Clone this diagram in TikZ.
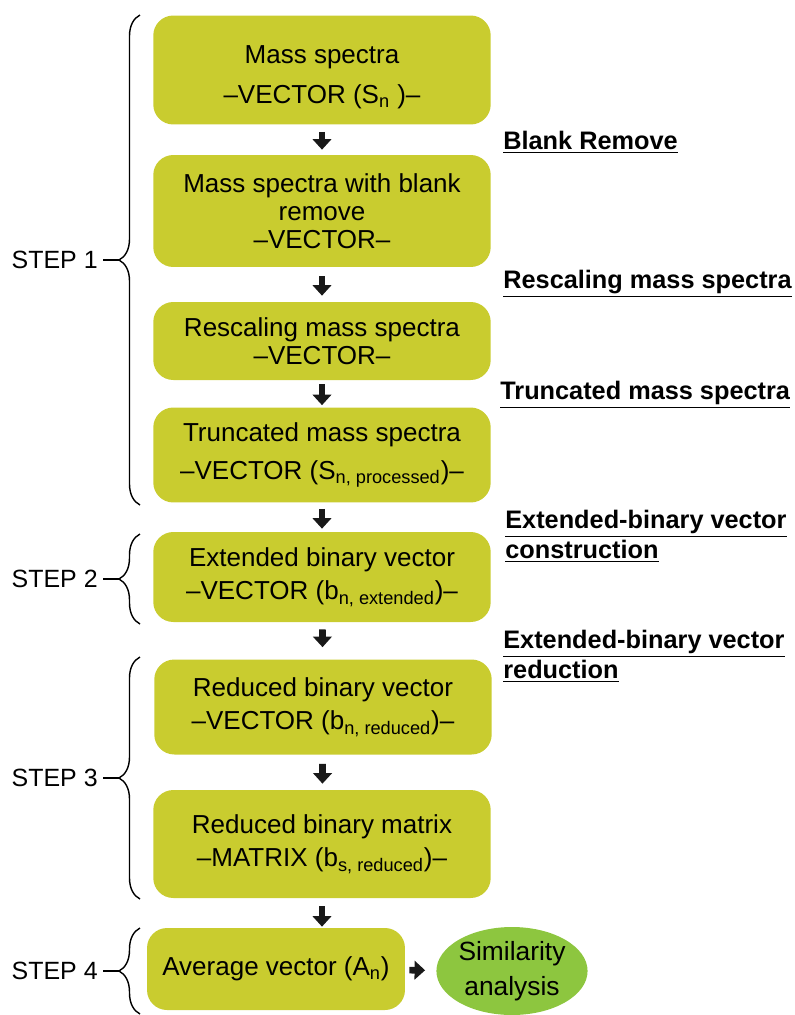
\documentclass[tikz,border=0pt]{standalone}
\usepackage{fontspec}
\setmainfont{Liberation Sans}
\usetikzlibrary{arrows.meta,positioning,shapes.geometric,decorations.pathreplacing}

\definecolor{boxolive}{RGB}{201,204,47}
\definecolor{ovalgreen}{RGB}{141,198,63}

\begin{document}
\begin{tikzpicture}[%
x=0.02cm, y=-0.02cm,
stage/.style={rectangle, rounded corners=0.4cm, fill=boxolive,
  minimum width=6.75cm, align=center, inner sep=0pt,
  font=\fontsize{14.8}{20}\selectfont},
flow/.style={-{Triangle[width=10.5pt,length=6pt]}, line width=3.8pt, draw=black!90},
oplabel/.style={anchor=west, align=left, inner sep=0pt,
  font=\bfseries\fontsize{14.4}{17}\selectfont},
steplabel/.style={anchor=east, inner sep=0pt, font=\fontsize{14.2}{16}\selectfont},
stepbrace/.style={decorate, decoration={brace, amplitude=0.42cm}, line width=0.8pt}
]
\useasboundingbox (0,0) rectangle (795,1015);

% flow boxes
\node[stage, minimum height=2.18cm] (raw) at (322,70)
  {\vphantom{X}\\[-12pt]Mass spectra\\[3pt]–VECTOR (S\textsubscript{n} )–};
\node[stage, minimum height=2.24cm] (blank) at (322,211)
  {Mass spectra with blank\\[-4pt]remove\\[-4pt]–VECTOR–};
\node[stage, minimum height=1.56cm] (rescale) at (322,341)
  {Rescaling mass spectra\\[-4pt]–VECTOR–};
\node[stage, minimum height=1.9cm] (trunc) at (322,455)
  {Truncated mass spectra\\[1.5pt]–VECTOR (S\textsubscript{n, processed})–};
\node[stage, minimum height=1.8cm] (extbin) at (322,577)
  {Extended binary vector\\[-1pt]–VECTOR (b\textsubscript{n, extended})–};
\node[stage, minimum height=1.9cm] (redvec) at (323,707)
  {Reduced binary vector\\[-1pt]–VECTOR (b\textsubscript{n, reduced})–};
\node[stage, minimum height=2.16cm] (redmat) at (322,844)
  {Reduced binary matrix\\[-1pt]–MATRIX (b\textsubscript{s, reduced})–};
\node[stage, minimum width=5.16cm, minimum height=1.64cm] (avg) at (276,969)
  {Average vector (A\textsubscript{n})};
\node[ellipse, fill=ovalgreen, minimum width=3cm, minimum height=1.76cm,
  align=center, inner sep=0pt, font=\fontsize{15}{20}\selectfont] (sim) at (512,971)
  {Similarity\\analysis};

% arrows
\draw[flow, shorten <=0.14cm, shorten >=0.1cm] (raw) -- (blank);
\draw[flow, shorten <=0.18cm, shorten >=0.12cm] (blank) -- (rescale);
\draw[flow, shorten <=0.08cm, shorten >=0.04cm] (rescale) -- (trunc);
\draw[flow, shorten <=0.12cm, shorten >=0.06cm] (trunc) -- (extbin);
\draw[flow, shorten <=0.14cm, shorten >=0.24cm] (extbin) -- (redvec);
\draw[flow, shorten <=0.18cm, shorten >=0.12cm] (redvec) -- (redmat);
\draw[flow, shorten <=0.16cm, shorten >=0.02cm] (redmat) -- (redmat |- avg.north);
\draw[flow, shorten <=0.08cm, shorten >=0.22cm] (avg) -- (sim);

% operations
\node[oplabel] (lblank) at (503,142) {\underline{Blank Remove}};
\node[oplabel] (lrescale) at (503,284) {\underline{Rescaling mass spectra}};
\node[oplabel] (ltrunc) at (500,395) {\underline{Truncated mass spectra}};
\node[oplabel] (lconstr) at (505,536)
  {\underline{Extended-binary vector}\\\underline{construction}};
\node[oplabel] (lreduce) at (503,656)
  {\underline{Extended-binary vector}\\\underline{reduction}};

% steps
\draw[stepbrace] (140,505) -- (140,15);
\draw[stepbrace] (140,624) -- (140,534);
\draw[stepbrace] (140,899) -- (140,657);
\draw[stepbrace] (140,1014) -- (140,928);

\node[steplabel] (step1) at (98,260) {STEP 1};
\node[steplabel] (step2) at (98,579) {STEP 2};
\node[steplabel] (step3) at (98,778) {STEP 3};
\node[steplabel] (step4) at (98,971) {STEP 4};
\coordinate (tip1) at (119,260);
\coordinate (tip2) at (119,579);
\coordinate (tip3) at (119,778);
\coordinate (tip4) at (119,971);
\draw[line width=0.8pt, shorten <=0.1cm] (step1.east) -- (tip1);
\draw[line width=0.8pt, shorten <=0.1cm] (step2.east) -- (tip2);
\draw[line width=0.8pt, shorten <=0.1cm] (step3.east) -- (tip3);
\draw[line width=0.8pt, shorten <=0.1cm] (step4.east) -- (tip4);
\end{tikzpicture}
\end{document}
